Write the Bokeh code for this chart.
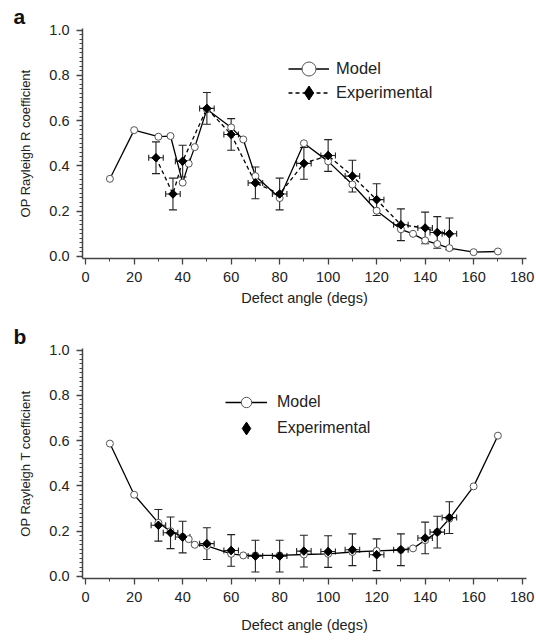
import numpy as np
from bokeh.plotting import figure
from bokeh.layouts import column
from bokeh.models import (ColumnDataSource, Whisker, TeeHead, Legend, LegendItem,
                          SingleIntervalTicker, NumeralTickFormatter, Range1d, Title)
from bokeh.embed import file_html
from bokeh.resources import INLINE

# ---------------- data ----------------
# Panel a: OP Rayleigh R coefficient
a_model_x = [10, 20, 30, 35, 40, 42.5, 45, 50, 60, 65, 70, 80, 90, 100, 110, 120, 130, 135, 140, 145, 150, 160, 170]
a_model_y = [0.343, 0.558, 0.529, 0.532, 0.326, 0.41, 0.483, 0.65, 0.57, 0.517, 0.355, 0.258, 0.50, 0.42,
             0.318, 0.202, 0.12, 0.10, 0.071, 0.055, 0.037, 0.019, 0.022]
a_exp_x = [29, 36, 40, 50, 60, 70, 80, 90, 100, 110, 120, 130, 140, 145, 150]
a_exp_y = [0.436, 0.276, 0.421, 0.654, 0.539, 0.325, 0.276, 0.411, 0.446, 0.355, 0.251, 0.14, 0.126, 0.106, 0.10]
a_exp_yerr = [0.07] * 15
a_exp_xerr = [3] * 15

# Panel b: OP Rayleigh T coefficient
b_model_x = [10, 20, 30, 35, 40, 42.5, 45, 50, 60, 65, 70, 80, 90, 100, 110, 120, 130, 135, 140, 145, 150, 160, 170]
b_model_y = [0.587, 0.361, 0.237, 0.20, 0.175, 0.165, 0.14, 0.135, 0.10, 0.093, 0.093, 0.093, 0.097, 0.10,
             0.108, 0.113, 0.117, 0.124, 0.16, 0.196, 0.255, 0.398, 0.622]
b_exp_x = [30, 35, 40, 50, 60, 70, 80, 90, 100, 110, 120, 130, 140, 145, 150]
b_exp_y = [0.226, 0.193, 0.174, 0.145, 0.115, 0.09, 0.09, 0.112, 0.11, 0.118, 0.096, 0.118, 0.17, 0.196, 0.26]
b_exp_yerr = [0.07] * 15
b_exp_xerr = [3] * 15

x_ticks_interval = 20
y_ticks_interval = 0.2

FONT = "Liberation Sans"


def make_legend(label, renderers, loc, gw, gh, ls, fs):
    return Legend(items=[LegendItem(label=label, renderers=renderers)],
                  location=loc, glyph_width=gw, glyph_height=gh, label_standoff=ls,
                  padding=0, margin=0, border_line_alpha=0, background_fill_alpha=0,
                  label_text_font=FONT, label_text_font_size=fs,
                  label_text_color="#222222", label_height=20)


def make_panel(letter, ylabel, mx, my, ex, ey, eyerr, exerr, dashed, lg, xlabel_standoff):
    p = figure(frame_width=444, frame_height=230, min_border_left=82, min_border_right=10,
               min_border_top=28, min_border_bottom=62,
               x_range=Range1d(-1.3, 181.8), y_range=Range1d(-0.009, 1.007),
               output_backend="svg", toolbar_location=None)
    p.grid.visible = False
    p.outline_line_color = None
    p.background_fill_color = "white"
    p.border_fill_color = "white"

    p.title = Title(text=letter, align="left", offset=-69, standoff=2,
                    text_font=FONT, text_font_size="21px", text_font_style="bold",
                    text_color="#111111")

    for ax in (p.xaxis[0], p.yaxis[0]):
        ax.axis_line_color = "#444444"
        ax.axis_line_width = 1.5
        ax.major_tick_line_color = "#444444"
        ax.minor_tick_line_color = "#444444"
        ax.major_tick_line_width = 1.3
        ax.minor_tick_line_width = 1
        ax.major_tick_out = 6
        ax.major_tick_in = 0
        ax.minor_tick_out = 3
        ax.minor_tick_in = 0
        ax.major_label_text_font = FONT
        ax.major_label_text_font_size = "14.5px"
        ax.major_label_text_color = "#222222"
        ax.axis_label_text_font = FONT
        ax.axis_label_text_font_style = "normal"
        ax.axis_label_text_color = "#222222"
        ax.major_label_standoff = 7

    p.xaxis.ticker = SingleIntervalTicker(interval=x_ticks_interval, num_minor_ticks=2)
    p.yaxis.ticker = SingleIntervalTicker(interval=y_ticks_interval, num_minor_ticks=10)
    p.yaxis.formatter = NumeralTickFormatter(format="0.0")
    p.xaxis.axis_label = "Defect angle (degs)"
    p.xaxis.axis_label_text_font_size = "14.5px"
    p.xaxis.axis_label_standoff = xlabel_standoff
    p.yaxis.axis_label = ylabel
    p.yaxis.axis_label_text_font_size = "13px"
    p.yaxis.axis_label_standoff = 13

    # model line + circles
    msrc = ColumnDataSource(dict(x=mx, y=my))
    m_line = p.line("x", "y", source=msrc, line_color="black", line_width=1.3)

    esrc = ColumnDataSource(dict(
        x=ex, y=ey,
        ylo=[v - e for v, e in zip(ey, eyerr)], yhi=[v + e for v, e in zip(ey, eyerr)],
        xlo=[v - e for v, e in zip(ex, exerr)], xhi=[v + e for v, e in zip(ex, exerr)],
    ))
    e_line = None
    if dashed:
        e_line = p.line("x", "y", source=esrc, line_color="black", line_width=1.3, line_dash="4 3")

    vw = Whisker(source=esrc, base="x", lower="ylo", upper="yhi", dimension="height",
                 line_color="#222222", line_width=1.1,
                 lower_head=TeeHead(size=8, line_color="#222222", line_width=1.1),
                 upper_head=TeeHead(size=8, line_color="#222222", line_width=1.1))
    hw = Whisker(source=esrc, base="y", lower="xlo", upper="xhi", dimension="width",
                 line_color="#222222", line_width=1.1,
                 lower_head=TeeHead(size=6, line_color="#222222", line_width=1.1),
                 upper_head=TeeHead(size=6, line_color="#222222", line_width=1.1))
    p.add_layout(vw)
    p.add_layout(hw)

    m_pts = p.scatter("x", "y", source=msrc, marker="circle", size=7,
                      line_color="#555555", fill_color="white", line_width=1)
    # diamond marker (used for the legend symbol), covered by the rotated squares below
    e_dia = p.scatter("x", "y", source=esrc, marker="diamond", size=8,
                      line_color="black", fill_color="black")
    p.scatter("x", "y", source=esrc, marker="square", angle=np.pi / 4, size=6,
              line_color="black", fill_color="black")

    exp_renderers = [e_line, e_dia] if e_line is not None else [e_dia]
    p.add_layout(make_legend("Model", [m_line, m_pts], lg["loc1"], lg["gw"], lg["gh1"], lg["ls"], lg["fs"]))
    p.add_layout(make_legend("Experimental", exp_renderers, lg["loc2"], lg["gw"], lg["gh2"], lg["ls"], lg["fs"]))
    return p


pa = make_panel("a", "OP Rayleigh R coefficient", a_model_x, a_model_y, a_exp_x, a_exp_y,
                a_exp_yerr, a_exp_xerr, True,
                dict(loc1=(206, 172), loc2=(206, 148), gw=41, gh1=35, gh2=35, ls=7, fs="16.5px"), 5)
pb = make_panel("b", "OP Rayleigh T coefficient", b_model_x, b_model_y, b_exp_x, b_exp_y,
                b_exp_yerr, b_exp_xerr, False,
                dict(loc1=(143, 163), loc2=(143, 134), gw=42, gh1=26, gh2=32, ls=10, fs="16px"), 12)

layout = column(pa, pb, spacing=0)
open("out.html", "w").write(file_html(layout, INLINE))
